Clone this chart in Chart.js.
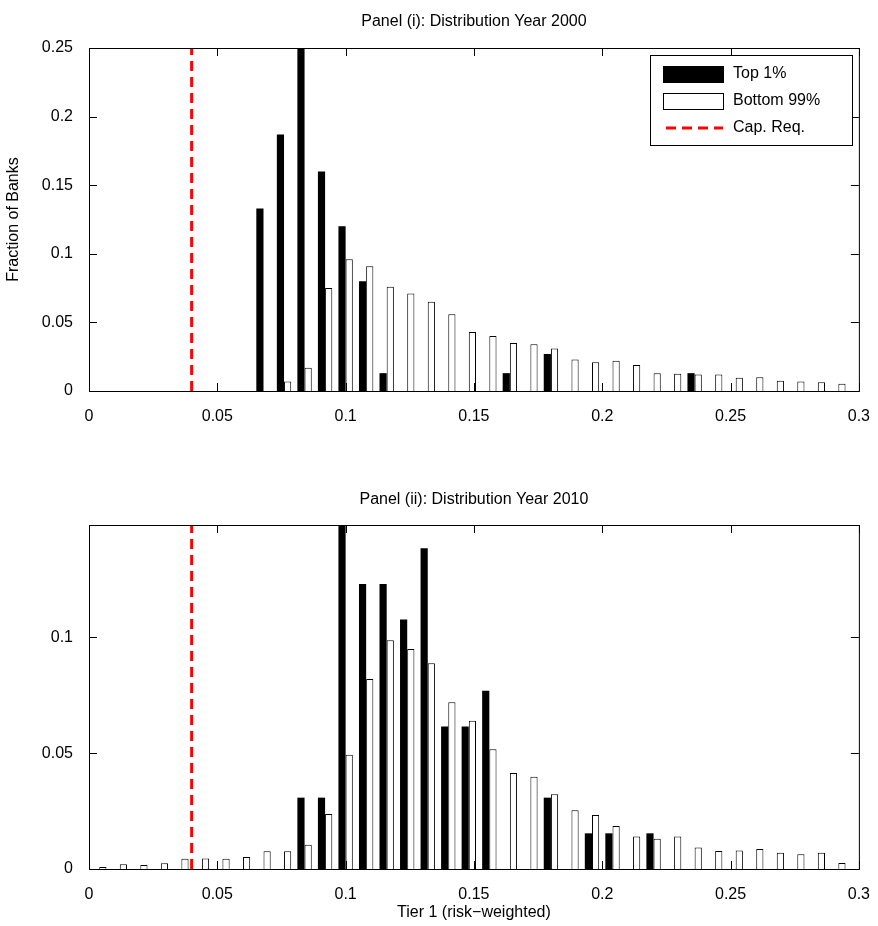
<!DOCTYPE html>
<html>
<head>
<meta charset="utf-8">
<script src="https://cdn.jsdelivr.net/npm/chart.js@4"></script>
<style>
  body { margin: 0; background: #fff; }
  .panel { position: absolute; left: 0; width: 878px; height: 463px; }
</style>
</head>
<body>
<div class="panel" style="top:0"><canvas id="c1"></canvas></div>
<div class="panel" style="top:463px"><canvas id="c2"></canvas></div>
<script>
// bin centres 0.004, 0.012, ... 0.292 (width 0.008)
const binCenters = Array.from({ length: 37 }, (_, k) => +(0.004 + 0.008 * k).toFixed(3))
const xTicks = [0, 0.05, 0.1, 0.15, 0.2, 0.25, 0.3]
const capReq = 0.04

// Panel (i) 2000
const top2000 = [0,0,0,0,0,0,0,0, 0.133,0.187,0.25,0.16,0.12,0.08,0.013,0,0,0,0,0, 0.013,0,0.027,0,0,0,0,0,0, 0.013,0,0,0,0,0,0,0]
const bottom2000 = [0,0,0,0,0,0,0,0, 0,0.007,0.017,0.075,0.096,0.091,0.076,0.071,0.065,0.056,0.043,0.040, 0.035,0.034,0.031,0.023,0.021,0.022,0.019,0.013,0.0126, 0.012,0.012,0.0097,0.010,0.0075,0.007,0.0063,0.0053]
const yTicks2000 = [0, 0.05, 0.1, 0.15, 0.2, 0.25]

// Panel (ii) 2010
const top2010 = [0,0,0,0,0,0,0,0,0,0, 0.0308,0.0308,0.154,0.123,0.123,0.1077,0.1385,0.0615,0.0615,0.077, 0,0,0.0308,0,0.0154,0.0154,0,0.0154,0, 0,0,0,0,0,0,0,0]
const bottom2010 = [0.0009,0.002,0.0017,0.0025,0.0044,0.0045,0.0044,0.0052,0.0077,0.0077, 0.0105,0.0237,0.0493,0.082,0.0987,0.095,0.0888,0.072,0.064,0.0517, 0.0414,0.0398,0.0323,0.0254,0.0233,0.0186,0.014,0.0131,0.014, 0.0093,0.0078,0.008,0.0086,0.007,0.0064,0.007,0.0026]
const yTicks2010 = [0, 0.05, 0.1]

const FONT = "'Liberation Sans', Arial, sans-serif"

// inward ticks on all four sides, plus title and optional legend
const frameDeco = {
  id: "frameDeco",
  afterDraw(chart, args, opts) {
    const { ctx, chartArea: a, scales } = chart
    ctx.save()
    ctx.strokeStyle = "#000"
    ctx.lineWidth = 1
    ctx.strokeRect(a.left + 0.5, a.top + 0.5, a.right - a.left, a.bottom - a.top)
    ctx.beginPath()
    xTicks.forEach((v) => {
      const x = Math.round(scales.x.getPixelForValue(v)) + 0.5
      ctx.moveTo(x, a.bottom); ctx.lineTo(x, a.bottom - 8)
      ctx.moveTo(x, a.top); ctx.lineTo(x, a.top + 8)
    })
    opts.yTicks.forEach((v) => {
      const y = Math.round(scales.y.getPixelForValue(v)) + 0.5
      ctx.moveTo(a.left, y); ctx.lineTo(a.left + 8, y)
      ctx.moveTo(a.right, y); ctx.lineTo(a.right - 8, y)
    })
    ctx.stroke()

    ctx.fillStyle = "#000"
    ctx.font = "16px " + FONT
    ctx.textAlign = "center"
    ctx.textBaseline = "middle"
    ctx.fillText(opts.title, (a.left + a.right) / 2, opts.titleY)

    if (opts.legend) {
      const lx = 650, ly = 55, w = 202, h = 90
      ctx.fillStyle = "#fff"
      ctx.fillRect(lx, ly, w, h)
      ctx.strokeRect(lx + 0.5, ly + 0.5, w, h)
      const rows = [
        { label: "Top 1%", kind: "black" },
        { label: "Bottom 99%", kind: "white" },
        { label: "Cap. Req.", kind: "line" },
      ]
      ctx.textAlign = "left"
      rows.forEach((r, i) => {
        const cy = ly + 19 + i * 27
        if (r.kind === "line") {
          ctx.strokeStyle = "#ff0000"
          ctx.lineWidth = 3
          ctx.setLineDash([10, 6])
          ctx.beginPath(); ctx.moveTo(666, cy); ctx.lineTo(723, cy); ctx.stroke()
          ctx.setLineDash([])
        } else {
          ctx.fillStyle = r.kind === "black" ? "#000" : "#fff"
          ctx.fillRect(663, cy - 8, 60, 16)
          ctx.strokeStyle = "#000"
          ctx.lineWidth = 1
          ctx.strokeRect(663.5, cy - 7.5, 60, 16)
        }
        ctx.fillStyle = "#000"
        ctx.fillText(r.label, 733, cy)
      })
    }
    ctx.restore()
  },
}

function pts(values) {
  return values.map((v, i) => ({ x: binCenters[i], y: v }))
}

function makePanel(id, topVals, bottomVals, yMax, yTicks, opt) {
  new Chart(document.getElementById(id), {
    type: "bar",
    data: {
      datasets: [
        { type: "line", data: [{ x: capReq, y: 0 }, { x: capReq, y: yMax }], borderColor: "#ff0000", borderWidth: 3, borderDash: [10, 6], pointRadius: 0, order: 0 },
        { label: "Top 1%", data: pts(topVals), backgroundColor: "#000", borderColor: "#000", borderWidth: 0, order: 1 },
        { label: "Bottom 99%", data: pts(bottomVals), backgroundColor: "#fff", borderColor: "#000", borderWidth: 1, order: 1 },
      ],
    },
    options: {
      responsive: true,
      maintainAspectRatio: false,
      animation: false,
      devicePixelRatio: 1,
      categoryPercentage: 0.7,
      barPercentage: 1,
      layout: { padding: { top: opt.top, right: 13, left: 0, bottom: 0 } },
      plugins: {
        legend: { display: false },
        tooltip: { enabled: false },
        frameDeco: { title: opt.title, titleY: opt.titleY, legend: opt.legend, yTicks: yTicks },
      },
      scales: {
        x: {
          type: "linear",
          offset: false,
          min: 0,
          max: 0.3,
          afterBuildTicks: (s) => { s.ticks = xTicks.map((v) => ({ value: v })) },
          afterFit: (s) => { s.height = opt.xh },
          grid: { display: false },
          border: { display: false },
          ticks: { color: "#000", font: { family: FONT, size: 16 }, padding: 8, maxRotation: 0, callback: (v) => String(v) },
          title: { display: !!opt.xTitle, text: opt.xTitle, color: "#000", font: { family: FONT, size: 16 }, padding: { top: 0 } },
        },
        y: {
          min: 0,
          max: yMax,
          afterBuildTicks: (s) => { s.ticks = yTicks.map((v) => ({ value: v })) },
          afterFit: (s) => { s.width = 89 },
          grid: { display: false },
          border: { display: false },
          ticks: { color: "#000", font: { family: FONT, size: 16 }, padding: 8, callback: (v) => String(v) },
          title: { display: !!opt.yTitle, text: opt.yTitle, color: "#000", font: { family: FONT, size: 16 }, padding: { bottom: 2 } },
        },
      },
    },
    plugins: [frameDeco],
  })
}

makePanel("c1", top2000, bottom2000, 0.25, yTicks2000, {
  top: 48, xh: 72, title: "Panel (i): Distribution Year 2000", titleY: 22, legend: true, yTitle: "Fraction of Banks",
})
makePanel("c2", top2010, bottom2010, 0.1485, yTicks2010, {
  top: 62, xh: 57, title: "Panel (ii): Distribution Year 2010", titleY: 37, legend: false, xTitle: "Tier 1 (risk\u2212weighted)",
})
</script>
</body>
</html>
